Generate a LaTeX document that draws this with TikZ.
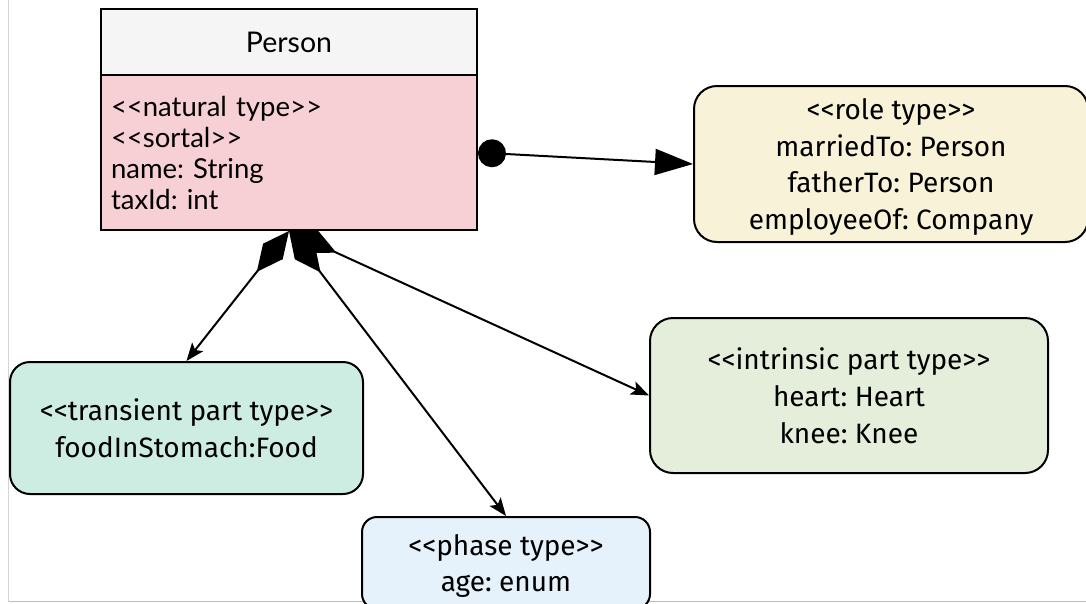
\documentclass[tikz,border=0pt]{standalone}
\usepackage{fontspec}
\newfontfamily\latofont{Lato}
\newfontfamily\firafont{Fira Sans}
\usetikzlibrary{arrows.meta}

\definecolor{headfill}{HTML}{F5F5F5}
\definecolor{bodyfill}{HTML}{F6D0D4}
\definecolor{rolefill}{HTML}{F8F3D8}
\definecolor{intrinsicfill}{HTML}{E5EEDB}
\definecolor{transientfill}{HTML}{CDEDE3}
\definecolor{phasefill}{HTML}{E6F2FB}
\definecolor{framegray}{HTML}{D4D4D4}
\definecolor{framegraydark}{HTML}{BDBDBD}

\tikzset{
  classbox/.style={draw=black, line width=2pt, rectangle, inner sep=0pt,
    minimum width=376pt},
  typebox/.style={draw=black, line width=2pt, rectangle, align=center,
    inner sep=0pt, text depth=0pt,
    font=\firafont\fontsize{28}{36.8}\selectfont},
  link/.style={line width=2pt, draw=black},
  partlink/.style={link,
    {Diamond[length=52pt,width=25pt]}-{Stealth[length=18pt,width=14pt,inset=4pt]}},
}

\begin{document}
\frenchspacing
\begin{tikzpicture}[x=1pt,y=-1pt]
\useasboundingbox (0,0) rectangle (1086,603);
\begin{scope}
\clip (0,0) rectangle (1086,603);

% page frame
\draw[framegray, line width=1.6pt] (8.5,0) -- (8.5,601.5);
\draw[framegraydark, line width=1.6pt] (8.5,601.5) -- (1086,601.5);

% Person class: header and attribute compartment
\node[classbox, fill=headfill, minimum height=66pt,
      font=\latofont\fontsize{28.5}{31}\selectfont] (head) at (289,42) {Person};
\node[classbox, fill=bodyfill, minimum height=155pt, align=left,
      text width=356pt, inner xsep=10pt,
      font=\latofont\fontsize{27.5}{31}\selectfont] (body) at (289,152.5)
  {<{}<natural type>{}>\\ <{}<sortal>{}>\\ name: String\\ taxId: int};

% related types
\node[typebox, fill=rolefill, rounded corners=23pt,
      minimum width=394pt, minimum height=156pt] (role) at (891,164)
  {<{}<role type>{}>\\ marriedTo: Person\\ fatherTo: Person\\ employeeOf: Company};

\node[typebox, fill=intrinsicfill, rounded corners=23pt,
      minimum width=398pt, minimum height=155pt] (intrinsic) at (849,395.5)
  {<{}<intrinsic part type>{}>\\ heart: Heart\\ knee: Knee};

\node[typebox, fill=transientfill, rounded corners=20pt,
      minimum width=353pt, minimum height=132pt] (transient) at (186.5,428)
  {<{}<transient part type>{}>\\ foodInStomach:Food};

\node[typebox, fill=phasefill, rounded corners=15pt,
      minimum width=288pt, minimum height=92pt] (phase) at (506,563)
  {<{}<phase type>{}>\\ age: enum};

% associations
\draw[link, {Circle[length=28pt]}-{Triangle[length=38pt,width=26pt]}]
  (body.east) -- (role.west);
\draw[partlink] (body.south) -- (transient.north);
\draw[partlink] (body.south) -- (phase.north);
\draw[partlink] (body.south) -- (intrinsic.west);
\end{scope}
\end{tikzpicture}
\end{document}
